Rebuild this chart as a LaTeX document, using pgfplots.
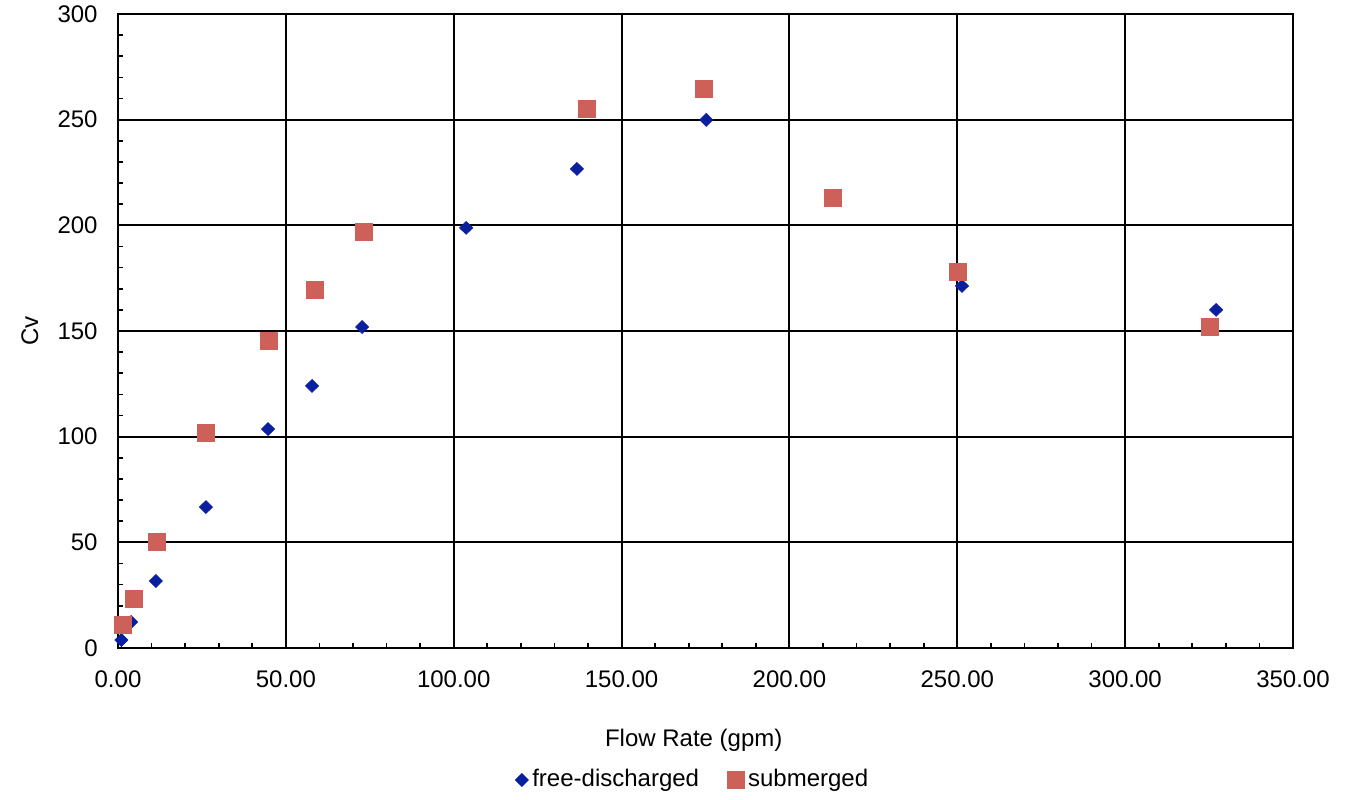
\documentclass[border=0pt]{standalone}
\usepackage{fontspec}
\setmainfont{Liberation Sans}
\usepackage{pgfplots}
\pgfplotsset{compat=1.18}
\definecolor{freeblue}{HTML}{0A1EA0}
\definecolor{subred}{HTML}{CD6058}

\begin{document}
\fontsize{12}{14}\selectfont
\begin{tikzpicture}
\begin{axis}[
  scale only axis,
  width=587.5pt,
  height=317pt,
  xmin=0, xmax=350,
  ymin=0, ymax=300,
  xtick={0,50,...,350},
  ytick={0,50,...,300},
  minor x tick num=4,
  minor y tick num=4,
  xtick pos=left,
  ytick pos=left,
  tick align=inside,
  major tick length=0pt,
  minor tick length=2.5pt,
  every minor tick/.style={black, line width=0.8pt},
  grid=major,
  grid style={black, line width=1pt},
  axis line style={black, line width=1.2pt},
  xticklabel={\pgfmathprintnumber[fixed,fixed zerofill,precision=2]{\tick}},
  /pgf/number format/assume math mode=true,
  yticklabel style={xshift=-6pt, font=\fontsize{12}{14}\selectfont},
  xticklabel style={yshift=-7pt, font=\fontsize{12}{14}\selectfont},
  xlabel={Flow Rate (gpm)},
  ylabel={Cv},
  label style={font=\fontsize{12}{14}\selectfont},
  xlabel style={at={(axis description cs:0.49,-0.145)}, anchor=center},
  ylabel style={at={(axis description cs:-0.075,0.5)}, anchor=center},
  legend style={at={(0.49,0)}, anchor=center, yshift=-66pt, draw=none,
    legend columns=2, font=\fontsize{12}{14}\selectfont,
    /tikz/every even column/.append style={column sep=12pt}},
  legend cell align=left,
  clip=false,
]
\addplot[only marks, mark=diamond*, mark size=3.2pt,
  mark options={fill=freeblue, draw=freeblue, xscale=1.35}] coordinates {
  (1.0,3.8) (3.9,12.3) (11.3,31.7) (26.2,66.7) (44.7,103.6)
  (57.8,124.0) (72.7,151.9) (103.7,198.8) (136.7,226.7)
  (175.2,249.9) (251.4,171.3) (327.1,160.0)
};
\addlegendentry{free-discharged}
\addplot[only marks, mark=square*, mark size=4.25pt,
  mark options={fill=subred, draw=subred}] coordinates {
  (1.5,10.9) (4.8,23.2) (11.6,50.2) (26.2,101.7) (45.0,145.3)
  (58.7,169.4) (73.3,196.9) (139.7,255.1) (174.6,264.5)
  (213.0,213.0) (250.2,178.0) (325.3,151.9)
};
\addlegendentry{submerged}
\end{axis}
\pgfresetboundingbox
\path[use as bounding box] (-59pt,-75.5pt) rectangle (616.5pt,324pt);
\end{tikzpicture}
\end{document}
